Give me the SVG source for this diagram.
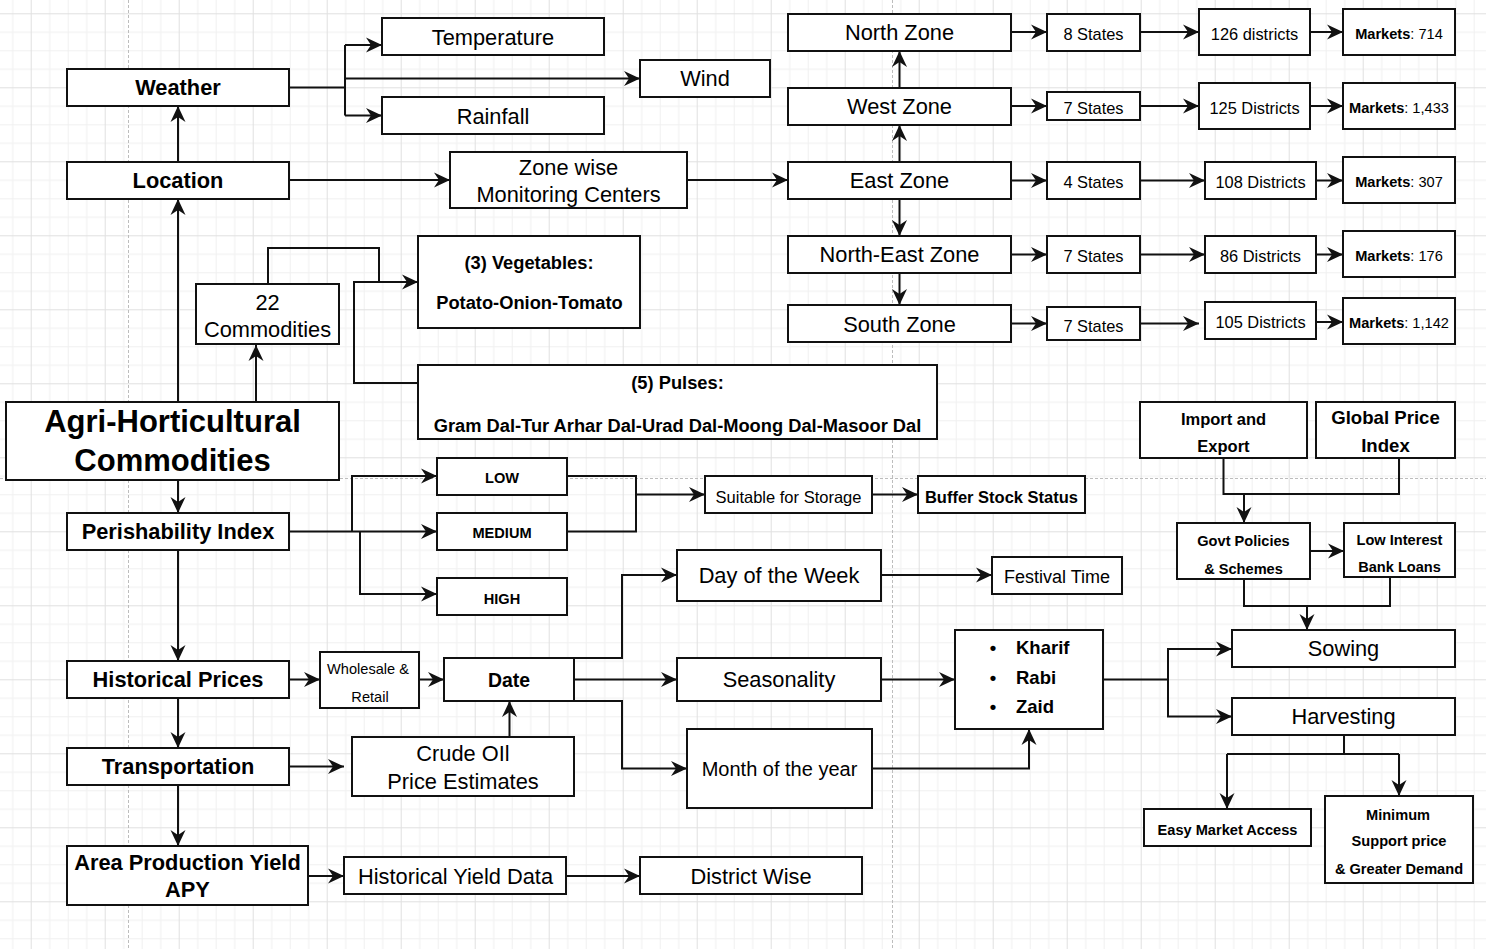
<svg xmlns="http://www.w3.org/2000/svg" width="1486" height="949" viewBox="0 0 1486 949">
  <defs>
    <!-- drawing grid: minor every 18.5px, major every 74px -->
    <pattern id="grid" patternUnits="userSpaceOnUse" x="30.7" y="13.3" width="74" height="74">
      <rect x="18.5" y="0" width="1" height="74" fill="#f0f0f0"/>
      <rect x="37" y="0" width="1" height="74" fill="#f0f0f0"/>
      <rect x="55.5" y="0" width="1" height="74" fill="#f0f0f0"/>
      <rect x="0" y="18.5" width="74" height="1" fill="#f0f0f0"/>
      <rect x="0" y="37" width="74" height="1" fill="#f0f0f0"/>
      <rect x="0" y="55.5" width="74" height="1" fill="#f0f0f0"/>
      <rect x="0" y="0" width="1" height="74" fill="#e0e0e0"/>
      <rect x="0" y="0" width="74" height="1" fill="#e0e0e0"/>
    </pattern>
    <marker id="arrow" markerUnits="userSpaceOnUse" markerWidth="18" markerHeight="18" viewBox="0 0 18 18" refX="16" refY="9" orient="auto">
      <path d="M0,1.5 L16,9 L0,16.5 L5,9 Z" fill="#111"/>
    </marker>
    <style>
      .box { fill: #fff; stroke: #111; stroke-width: 2; }
      .edge { fill: none; stroke: #111; stroke-width: 2; }
      .arr { marker-end: url(#arrow); }
      .pb { stroke: #bdbdbd; stroke-width: 1; stroke-dasharray: 3 2; }
      text { font-family: "Liberation Sans", Arial, Helvetica, sans-serif; fill: #000; text-anchor: middle; dominant-baseline: central; }
      .b { font-weight: bold; }
      .f22 { font-size: 21.8px; }
      .f20 { font-size: 20px; }
      .f19 { font-size: 19.4px; }
      .f18 { font-size: 18.3px; }
      .f16 { font-size: 16.4px; }
      .f14 { font-size: 14.6px; }
      .f31 { font-size: 31px; }
    </style>
  </defs>

  <!-- canvas -->
  <rect x="0" y="0" width="1486" height="949" fill="#fff"/>
  <rect x="0" y="0" width="1486" height="949" fill="url(#grid)"/>
  <!-- page breaks -->
  <line class="pb" x1="128.5" y1="0" x2="128.5" y2="949"/>
  <line class="pb" x1="892.5" y1="0" x2="892.5" y2="949"/>
  <line class="pb" x1="0" y1="478.5" x2="1486" y2="478.5"/>

  <g id="connectors">
    <!-- weather branches -->
    <path class="edge" d="M289,87.5 H345"/>
    <path class="edge" d="M345,45 V115.5"/>
    <path class="edge arr" d="M345,45 H382"/>
    <path class="edge arr" d="M345,115.5 H382"/>
    <path class="edge arr" d="M345,78.5 H640"/>
    <!-- left spine -->
    <path class="edge arr" d="M178,162 V106"/>
    <path class="edge arr" d="M178,402 V199"/>
    <path class="edge arr" d="M256,402 V345"/>
    <path class="edge arr" d="M178,480 V513"/>
    <path class="edge arr" d="M178,550 V661"/>
    <path class="edge arr" d="M178,698 V748"/>
    <path class="edge arr" d="M178,785 V846"/>
    <!-- location to zones -->
    <path class="edge arr" d="M289,180 H450"/>
    <path class="edge arr" d="M687,180 H788"/>
    <!-- commodity groups -->
    <path class="edge arr" d="M268,284 V248 H379 V282 H418"/>
    <path class="edge" d="M418,383 H354 V282 H379"/>
    <!-- zones vertical -->
    <path class="edge arr" d="M899.5,162 V125"/>
    <path class="edge arr" d="M899.5,88 V51"/>
    <path class="edge arr" d="M899.5,199 V236"/>
    <path class="edge arr" d="M899.5,273 V305"/>
    <!-- zones to states -->
    <path class="edge arr" d="M1011,32 H1047"/>
    <path class="edge arr" d="M1011,106 H1047"/>
    <path class="edge arr" d="M1011,180.5 H1047"/>
    <path class="edge arr" d="M1011,254.5 H1047"/>
    <path class="edge arr" d="M1011,323.5 H1047"/>
    <!-- states to districts -->
    <path class="edge arr" d="M1140,32 H1199"/>
    <path class="edge arr" d="M1140,106 H1199"/>
    <path class="edge arr" d="M1140,180.5 H1205"/>
    <path class="edge arr" d="M1140,254.5 H1205"/>
    <path class="edge arr" d="M1140,323.5 H1199"/>
    <!-- districts to markets -->
    <path class="edge arr" d="M1310,32 H1343"/>
    <path class="edge arr" d="M1310,106 H1343"/>
    <path class="edge arr" d="M1316,180.5 H1343"/>
    <path class="edge arr" d="M1316,254.5 H1343"/>
    <path class="edge arr" d="M1316,322 H1343"/>
    <!-- perishability levels -->
    <path class="edge arr" d="M289,531.5 H437"/>
    <path class="edge arr" d="M352,531.5 V476 H437"/>
    <path class="edge arr" d="M360,531.5 V594 H437"/>
    <path class="edge" d="M567,476 H636 V531.5 H567"/>
    <path class="edge arr" d="M636,494.5 H705"/>
    <path class="edge arr" d="M872,494.5 H918"/>
    <!-- prices and date -->
    <path class="edge arr" d="M289,679.5 H320"/>
    <path class="edge arr" d="M419,679.5 H444"/>
    <path class="edge arr" d="M509.5,737 V701"/>
    <path class="edge arr" d="M289,766.5 H344"/>
    <path class="edge arr" d="M308,876 H344"/>
    <path class="edge arr" d="M566,876 H640"/>
    <path class="edge arr" d="M574,658 H622 V575 H677"/>
    <path class="edge arr" d="M574,679.5 H677"/>
    <path class="edge arr" d="M574,701 H622 V768.5 H687"/>
    <path class="edge arr" d="M881,575 H992"/>
    <path class="edge arr" d="M881,679.5 H955"/>
    <path class="edge arr" d="M872,768.5 H1029 V729"/>
    <!-- seasons to farming stages -->
    <path class="edge arr" d="M1103,679.5 H1168 V649 H1232"/>
    <path class="edge arr" d="M1168,679.5 V716.5 H1232"/>
    <!-- trade and policy -->
    <path class="edge" d="M1223.5,458 V494 H1399 V458"/>
    <path class="edge arr" d="M1244,494 V523"/>
    <path class="edge arr" d="M1310,551 H1344"/>
    <path class="edge" d="M1244,579 V606 H1390 V577"/>
    <path class="edge arr" d="M1307,606 V630"/>
    <!-- harvesting outcomes -->
    <path class="edge" d="M1344,735 V754 M1227,754 H1399"/>
    <path class="edge arr" d="M1227,754 V809"/>
    <path class="edge arr" d="M1399,754 V796"/>
  </g>

  <g id="weather"><rect class="box" x="67" y="69" width="222" height="37"/><text class="b f22" x="178" y="87.5">Weather</text></g>
  <g id="location"><rect class="box" x="67" y="162" width="222" height="37"/><text class="b f22" x="178" y="180.5">Location</text></g>
  <g id="temperature"><rect class="box" x="382" y="18" width="222" height="37"/><text class="f22" x="493" y="37">Temperature</text></g>
  <g id="wind"><rect class="box" x="640" y="60" width="130" height="37"/><text class="f22" x="705" y="78.5">Wind</text></g>
  <g id="rainfall"><rect class="box" x="382" y="97" width="222" height="37"/><text class="f22" x="493" y="116">Rainfall</text></g>
  <g id="monitoring"><rect class="box" x="450" y="152" width="237" height="56"/><text class="f22" x="568.5" y="167.5">Zone wise</text><text class="f22" x="568.5" y="194.5">Monitoring Centers</text></g>

  <g id="north-zone"><rect class="box" x="788" y="14" width="223" height="37"/><text class="f22" x="899.5" y="32.5">North Zone</text></g>
  <g id="west-zone"><rect class="box" x="788" y="88" width="223" height="37"/><text class="f22" x="899.5" y="106.5">West Zone</text></g>
  <g id="east-zone"><rect class="box" x="788" y="162" width="223" height="37"/><text class="f22" x="899.5" y="180.5">East Zone</text></g>
  <g id="north-east-zone"><rect class="box" x="788" y="236" width="223" height="37"/><text class="f22" x="899.5" y="254.5">North-East Zone</text></g>
  <g id="south-zone"><rect class="box" x="788" y="305" width="223" height="37"/><text class="f22" x="899.5" y="324">South Zone</text></g>

  <g id="states-north"><rect class="box" x="1047" y="14" width="93" height="37"/><text class="f16" x="1093.5" y="34">8 States</text></g>
  <g id="states-west"><rect class="box" x="1047" y="92" width="93" height="28"/><text class="f16" x="1093.5" y="108">7 States</text></g>
  <g id="states-east"><rect class="box" x="1047" y="162" width="93" height="37"/><text class="f16" x="1093.5" y="182">4 States</text></g>
  <g id="states-ne"><rect class="box" x="1047" y="236" width="93" height="37"/><text class="f16" x="1093.5" y="256">7 States</text></g>
  <g id="states-south"><rect class="box" x="1047" y="307" width="93" height="33"/><text class="f16" x="1093.5" y="326">7 States</text></g>

  <g id="districts-north"><rect class="box" x="1199" y="9" width="111" height="46"/><text class="f16" x="1254.5" y="34">126 districts</text></g>
  <g id="districts-west"><rect class="box" x="1199" y="83" width="111" height="46"/><text class="f16" x="1254.5" y="108">125 Districts</text></g>
  <g id="districts-east"><rect class="box" x="1205" y="162" width="111" height="37"/><text class="f16" x="1260.5" y="182">108 Districts</text></g>
  <g id="districts-ne"><rect class="box" x="1205" y="236" width="111" height="37"/><text class="f16" x="1260.5" y="256">86 Districts</text></g>
  <g id="districts-south"><rect class="box" x="1205" y="302" width="111" height="37"/><text class="f16" x="1260.5" y="321.5">105 Districts</text></g>

  <g id="markets-north"><rect class="box" x="1343" y="9" width="112" height="46"/><text class="f14" x="1399" y="34"><tspan class="b">Markets</tspan>: 714</text></g>
  <g id="markets-west"><rect class="box" x="1343" y="83" width="112" height="46"/><text class="f14" x="1399" y="108"><tspan class="b">Markets</tspan>: 1,433</text></g>
  <g id="markets-east"><rect class="box" x="1343" y="157" width="112" height="46"/><text class="f14" x="1399" y="182"><tspan class="b">Markets</tspan>: 307</text></g>
  <g id="markets-ne"><rect class="box" x="1343" y="231" width="112" height="46"/><text class="f14" x="1399" y="256"><tspan class="b">Markets</tspan>: 176</text></g>
  <g id="markets-south"><rect class="box" x="1343" y="298" width="112" height="46"/><text class="f14" x="1399" y="322.5"><tspan class="b">Markets</tspan>: 1,142</text></g>

  <g id="agri-horticultural"><rect class="box" x="6" y="402" width="333" height="78"/><text class="b f31" x="172.5" y="421">Agri-Horticultural</text><text class="b f31" x="172.5" y="460">Commodities</text></g>
  <g id="commodities-22"><rect class="box" x="196" y="284" width="143" height="60"/><text class="f22" x="267.5" y="302">22</text><text class="f22" x="267.5" y="329.5">Commodities</text></g>
  <g id="vegetables"><rect class="box" x="418" y="236" width="222" height="92"/><text class="b f18" x="529" y="262">(3) Vegetables:</text><text class="b f18" x="529.5" y="302.5">Potato-Onion-Tomato</text></g>
  <g id="pulses"><rect class="box" x="418" y="365" width="519" height="74"/><text class="b f18" x="677.5" y="382.5">(5) Pulses:</text><text class="b f18" x="677.5" y="425">Gram Dal-Tur Arhar Dal-Urad Dal-Moong Dal-Masoor Dal</text></g>

  <g id="perishability"><rect class="box" x="67" y="513" width="222" height="37"/><text class="b f22" x="178" y="531.5">Perishability Index</text></g>
  <g id="low"><rect class="box" x="437" y="458" width="130" height="37"/><text class="b f14" x="502" y="478">LOW</text></g>
  <g id="medium"><rect class="box" x="437" y="513" width="130" height="37"/><text class="b f14" x="502" y="533">MEDIUM</text></g>
  <g id="high"><rect class="box" x="437" y="578" width="130" height="37"/><text class="b f14" x="502" y="598.5">HIGH</text></g>
  <g id="storage"><rect class="box" x="705" y="476" width="167" height="37"/><text x="788.5" y="496.5" style="font-size:16.5px">Suitable for Storage</text></g>
  <g id="buffer-stock"><rect class="box" x="918" y="476" width="167" height="37"/><text class="b" x="1001.5" y="496.5" style="font-size:16.5px">Buffer Stock Status</text></g>

  <g id="import-export"><rect class="box" x="1140" y="402" width="167" height="56"/><text class="b" x="1223.5" y="418.5" style="font-size:16.5px">Import and</text><text class="b" x="1223.5" y="446" style="font-size:16.5px">Export</text></g>
  <g id="global-price"><rect class="box" x="1316" y="402" width="139" height="56"/><text class="b" x="1385.5" y="417.5" style="font-size:18.6px">Global Price</text><text class="b" x="1385.5" y="445" style="font-size:18.6px">Index</text></g>
  <g id="govt-policies"><rect class="box" x="1177" y="523" width="133" height="56"/><text class="b f14" x="1243.5" y="541">Govt Policies</text><text class="b f14" x="1243.5" y="569">&amp; Schemes</text></g>
  <g id="bank-loans"><rect class="box" x="1344" y="523" width="111" height="54"/><text class="b f14" x="1399.5" y="540">Low Interest</text><text class="b f14" x="1399.5" y="567">Bank Loans</text></g>

  <g id="day-of-week"><rect class="box" x="677" y="550" width="204" height="51"/><text class="f22" x="779" y="575.5">Day of the Week</text></g>
  <g id="festival"><rect class="box" x="992" y="557" width="130" height="37"/><text x="1057" y="577" style="font-size:18px">Festival Time</text></g>
  <g id="seasonality"><rect class="box" x="677" y="658" width="204" height="43"/><text class="f22" x="779" y="679.5">Seasonality</text></g>
  <g id="month"><rect class="box" x="687" y="729" width="185" height="79"/><text class="f20" x="779.5" y="769">Month of the year</text></g>
  <g id="seasons">
    <rect class="box" x="955" y="630" width="148" height="99"/>
    <text class="b" x="993" y="647.5" style="font-size:18.5px">•</text><text class="b" x="1016" y="647.5" style="font-size:18.5px;text-anchor:start">Kharif</text>
    <text class="b" x="993" y="677" style="font-size:18.5px">•</text><text class="b" x="1016" y="677" style="font-size:18.5px;text-anchor:start">Rabi</text>
    <text class="b" x="993" y="706" style="font-size:18.5px">•</text><text class="b" x="1016" y="706" style="font-size:18.5px;text-anchor:start">Zaid</text>
  </g>
  <g id="sowing"><rect class="box" x="1232" y="630" width="223" height="37"/><text class="f22" x="1343.5" y="648.5">Sowing</text></g>
  <g id="harvesting"><rect class="box" x="1232" y="698" width="223" height="37"/><text class="f22" x="1343.5" y="716.5">Harvesting</text></g>
  <g id="market-access"><rect class="box" x="1144" y="809" width="167" height="37"/><text class="b f14" x="1227.5" y="830">Easy Market Access</text></g>
  <g id="msp"><rect class="box" x="1325" y="796" width="148" height="87"/><text class="b f14" x="1398" y="815">Minimum</text><text class="b f14" x="1399" y="841">Support price</text><text class="b f14" x="1399" y="868.5">&amp; Greater Demand</text></g>

  <g id="historical-prices"><rect class="box" x="67" y="661" width="222" height="37"/><text class="b f22" x="178" y="679.5">Historical Prices</text></g>
  <g id="wholesale-retail"><rect class="box" x="320" y="652" width="99" height="56"/><text class="f14" x="368" y="669">Wholesale &amp;</text><text class="f14" x="370" y="697">Retail</text></g>
  <g id="date"><rect class="box" x="444" y="658" width="130" height="43"/><text class="b f19" x="509" y="680">Date</text></g>
  <g id="transportation"><rect class="box" x="67" y="748" width="222" height="37"/><text class="b f22" x="178" y="766.5">Transportation</text></g>
  <g id="crude-oil"><rect class="box" x="352" y="737" width="222" height="59"/><text class="f22" x="463" y="753.5">Crude OIl</text><text class="f22" x="463" y="781">Price Estimates</text></g>
  <g id="apy"><rect class="box" x="67" y="846" width="241" height="59"/><text class="b f22" x="187.5" y="862.5">Area Production Yield</text><text class="b f22" x="187.5" y="889.5">APY</text></g>
  <g id="yield-data"><rect class="box" x="344" y="857" width="222" height="37"/><text class="f22" x="455.5" y="876">Historical Yield Data</text></g>
  <g id="district-wise"><rect class="box" x="640" y="857" width="222" height="37"/><text class="f22" x="751" y="876">District Wise</text></g>
</svg>
